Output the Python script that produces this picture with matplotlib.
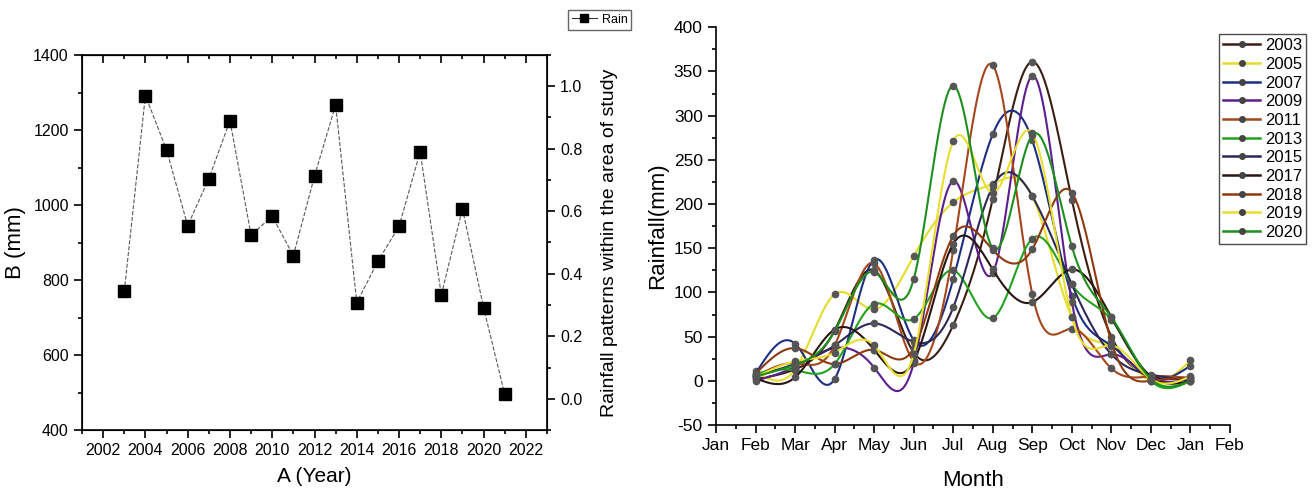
import numpy as np
import matplotlib

matplotlib.use("Agg")
import matplotlib.pyplot as plt  # noqa: E402
from matplotlib.lines import Line2D  # noqa: E402
from matplotlib.ticker import MultipleLocator, FormatStrFormatter  # noqa: E402

plt.rcParams["font.family"] = ["Liberation Sans", "DejaVu Sans"]
plt.rcParams["axes.unicode_minus"] = False

# annual totals (left panel)
years = [2003, 2004, 2005, 2006, 2007, 2008, 2009, 2010, 2011, 2012,
         2013, 2014, 2015, 2016, 2017, 2018, 2019, 2020, 2021]
annual_rain = [770, 1292, 1147, 945, 1070, 1225, 920, 970, 865, 1077,
               1267, 740, 850, 943, 1142, 760, 990, 726, 495]

# monthly rainfall (right panel), Feb..Jan
month_ticks = ["Jan", "Feb", "Mar", "Apr", "May", "Jun", "Jul", "Aug",
               "Sep", "Oct", "Nov", "Dec", "Jan", "Feb"]
month_pos = [2, 3, 4, 5, 6, 7, 8, 9, 10, 11, 12, 13]

rain_2003 = [2, 13, 57, 125, 32, 63, 206, 361, 205, 50, 5, 3]
rain_2005 = [11, 13, 98, 81, 141, 202, 223, 209, 72, 39, 0, 23]
rain_2007 = [8, 42, 2, 137, 46, 115, 279, 272, 96, 40, 3, 17]
rain_2009 = [0, 16, 37, 15, 20, 226, 122, 345, 89, 30, 4, 2]
rain_2011 = [5, 20, 40, 133, 22, 148, 357, 98, 59, 14, 5, 3]
rain_2013 = [8, 12, 19, 87, 70, 125, 71, 161, 109, 69, 0, 0]
rain_2015 = [5, 19, 40, 65, 44, 83, 220, 209, 109, 30, 7, 0]
rain_2017 = [3, 4, 58, 35, 22, 155, 126, 89, 126, 72, 5, 0]
rain_2018 = [8, 37, 19, 35, 37, 164, 148, 149, 213, 44, 0, 4]
rain_2019 = [4, 22, 32, 40, 30, 271, 213, 280, 72, 40, 2, 5]
rain_2020 = [5, 18, 56, 123, 115, 334, 150, 278, 152, 72, 2, 0]

series = [
    ("2003", rain_2003, "#3b1d12"),
    ("2005", rain_2005, "#e6dc2a"),
    ("2007", rain_2007, "#1c2f80"),
    ("2009", rain_2009, "#5b1f8e"),
    ("2011", rain_2011, "#a4471c"),
    ("2013", rain_2013, "#23a21f"),
    ("2015", rain_2015, "#2c2858"),
    ("2017", rain_2017, "#2a1510"),
    ("2018", rain_2018, "#8e3a0e"),
    ("2019", rain_2019, "#e8de30"),
    ("2020", rain_2020, "#1d8f1d"),
]


def natural_spline(x, y, xs):
    """Natural cubic spline through (x, y), evaluated at xs."""
    x = np.asarray(x, float)
    y = np.asarray(y, float)
    n = len(x)
    h = np.diff(x)
    A = np.zeros((n, n))
    r = np.zeros(n)
    A[0, 0] = A[-1, -1] = 1.0
    for i in range(1, n - 1):
        A[i, i - 1] = h[i - 1]
        A[i, i] = 2 * (h[i - 1] + h[i])
        A[i, i + 1] = h[i]
        r[i] = 3 * ((y[i + 1] - y[i]) / h[i] - (y[i] - y[i - 1]) / h[i - 1])
    c = np.linalg.solve(A, r)
    b = (y[1:] - y[:-1]) / h - h * (2 * c[:-1] + c[1:]) / 3
    d = (c[1:] - c[:-1]) / (3 * h)
    idx = np.clip(np.searchsorted(x, xs) - 1, 0, n - 2)
    dx = xs - x[idx]
    return y[idx] + b[idx] * dx + c[idx] * dx ** 2 + d[idx] * dx ** 3


def style_ticks(ax, size):
    ax.tick_params(which="both", direction="out", labelsize=size, width=1.2)
    ax.tick_params(which="major", length=6)
    ax.tick_params(which="minor", length=3)


fig = plt.figure(figsize=(13.14, 4.92), dpi=100)

# ---- left panel: annual rainfall ----
ax1 = fig.add_axes([82 / 1314, 1 - 430 / 492, 465 / 1314, 375 / 492])
ax1.plot(years, annual_rain, color="0.35", linestyle="--", linewidth=0.8,
         marker="s", markersize=8, markerfacecolor="black",
         markeredgecolor="black", label="Rain")
ax1.set_xlim(2001, 2023)
ax1.set_ylim(400, 1400)
ax1.xaxis.set_major_locator(MultipleLocator(2))
ax1.xaxis.set_minor_locator(MultipleLocator(1))
ax1.yaxis.set_major_locator(MultipleLocator(200))
ax1.yaxis.set_minor_locator(MultipleLocator(100))
style_ticks(ax1, 11.5)
ax1.set_xlabel("A (Year)", fontsize=15, labelpad=6)
ax1.set_ylabel("B (mm)", fontsize=16, labelpad=5)
for s in ax1.spines.values():
    s.set_linewidth(1.2)

top = ax1.secondary_xaxis("top")
top.xaxis.set_major_locator(MultipleLocator(2))
top.xaxis.set_minor_locator(MultipleLocator(1))
top.tick_params(which="both", direction="in", labeltop=False, width=1.2)
top.tick_params(which="major", length=6)
top.tick_params(which="minor", length=3)

ax1r = ax1.twinx()
ax1r.set_ylim(-0.1, 1.1)
ax1r.yaxis.set_major_locator(MultipleLocator(0.2))
ax1r.yaxis.set_minor_locator(MultipleLocator(0.1))
ax1r.yaxis.set_major_formatter(FormatStrFormatter("%.1f"))
style_ticks(ax1r, 11.5)
ax1r.set_ylabel("Rainfall patterns within the area of study", fontsize=14,
                labelpad=13)

fig.legend(handles=[Line2D([], [], color="0.2", linestyle="-", linewidth=0.8,
                           marker="s", markersize=6, markerfacecolor="black",
                           markeredgecolor="black")],
           labels=["Rain"], loc="upper left",
           bbox_to_anchor=(568 / 1314, 1 - 10 / 492), borderaxespad=0,
           fontsize=9, handlelength=2.0, handletextpad=0.4, borderpad=0.3,
           fancybox=False, edgecolor="0.4", framealpha=1)

# ---- right panel: monthly rainfall curves ----
ax2 = fig.add_axes([716 / 1314, 1 - 425 / 492, 514 / 1314, 397.7 / 492])
xs = np.linspace(month_pos[0], month_pos[-1], 500)
handles = []
for label, vals, color in series:
    ax2.plot(xs, natural_spline(month_pos, vals, xs), color=color, linewidth=1.5)
    ax2.plot(month_pos, vals, linestyle="none", marker="o", markersize=4.5,
             color="#555555")
    handles.append(Line2D([], [], color=color, linewidth=1.8, marker="o",
                          markersize=4, markerfacecolor="#444444",
                          markeredgecolor="#444444"))

ax2.set_xlim(1, 14)
ax2.set_ylim(-50, 400)
ax2.set_xticks(range(1, 15))
ax2.set_xticklabels(month_ticks)
ax2.xaxis.set_minor_locator(MultipleLocator(0.5))
ax2.yaxis.set_major_locator(MultipleLocator(50))
ax2.yaxis.set_minor_locator(MultipleLocator(25))
style_ticks(ax2, 12.5)
ax2.spines["top"].set_visible(False)
ax2.spines["right"].set_visible(False)
ax2.spines["left"].set_linewidth(1.2)
ax2.spines["bottom"].set_linewidth(1.2)
ax2.set_xlabel("Month", fontsize=16, labelpad=12)
ax2.set_ylabel("Rainfall(mm)", fontsize=16, labelpad=4)

fig.legend(handles=handles, labels=[s[0] for s in series], loc="upper left",
           bbox_to_anchor=(1219 / 1314, 1 - 34 / 492), fontsize=12,
           handlelength=2.2, handletextpad=0.3, labelspacing=0.22,
           borderpad=0.25, borderaxespad=0, fancybox=False, edgecolor="0.3",
           framealpha=1)

fig.savefig("out.png", dpi=100)
